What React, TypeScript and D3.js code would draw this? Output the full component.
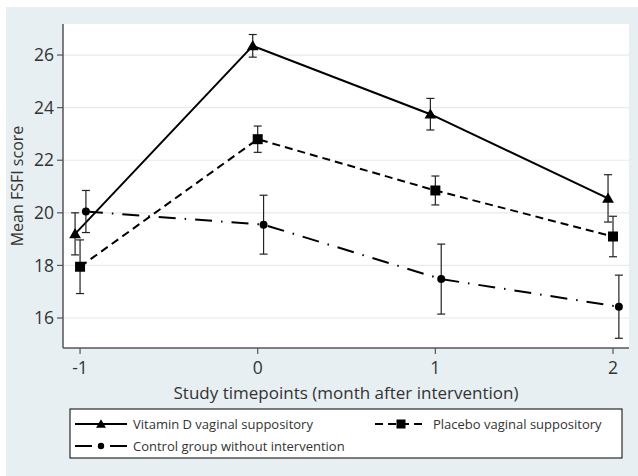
import React from 'react';
import * as d3 from 'd3';

const timepoints = [-1, 0, 1, 2];
const xTicks = [-1, 0, 1, 2];
const yTicks = [16, 18, 20, 22, 24, 26];

const vitaminMean = [19.2, 26.35, 23.75, 20.55];
const vitaminErr = [0.8, 0.43, 0.6, 0.9];
const placeboMean = [17.95, 22.8, 20.85, 19.1];
const placeboErr = [1.02, 0.5, 0.55, 0.77];
const controlMean = [20.05, 19.55, 17.48, 16.43];
const controlErr = [0.8, 1.12, 1.33, 1.2];

const series = [
  { name: 'Vitamin D vaginal suppository', mean: vitaminMean, err: vitaminErr, shift: -0.028, dash: null, marker: 'triangle' },
  { name: 'Placebo vaginal suppository', mean: placeboMean, err: placeboErr, shift: 0, dash: '8 5', marker: 'square' },
  { name: 'Control group without intervention', mean: controlMean, err: controlErr, shift: 0.033, dash: '17 9 1.5 9', marker: 'circle' },
];

const W = 638;
const H = 476;
const plot = { left: 63, right: 629, top: 24, bottom: 348 };
const font = '"Open Sans", sans-serif';

function Marker({ type, x, y, small }: { type: string; x: number; y: number; small?: boolean }) {
  if (type === 'triangle') {
    const s = d3.symbol(d3.symbolTriangle, small ? 42 : 60)();
    return <path d={s as string} transform={`translate(${x},${y + 1})`} fill="#000" />;
  }
  if (type === 'square') {
    const h = small ? 4.5 : 5;
    return <rect x={x - h} y={y - h} width={2 * h} height={2 * h} fill="#000" />;
  }
  return <circle cx={x} cy={y} r={small ? 3.2 : 4} fill="#000" />;
}

export default function App() {
  const x = d3.scaleLinear().domain([-1.096, 2.09]).range([plot.left, plot.right]);
  const y = d3.scaleLinear().domain([14.86, 27.18]).range([plot.bottom, plot.top]);

  const line = d3.line<[number, number]>().x(d => x(d[0])).y(d => y(d[1]));

  return (
    <div style={{ position: 'fixed', left: 0, top: 0 }}>
      <svg width={W} height={H} style={{ display: 'block', fontFamily: font }}>
        <rect x={0} y={0} width={W} height={H} fill="#fff" />
        <rect x={6} y={7} width={W - 6} height={H - 7} fill="#e8eff2" />
        <rect x={plot.left} y={plot.top} width={plot.right - plot.left} height={plot.bottom - plot.top} fill="#fff" />

        {/* gridlines */}
        {yTicks.map(t => (
          <line key={'g' + t} x1={plot.left} x2={plot.right} y1={y(t)} y2={y(t)} stroke="#e3ecef" strokeWidth={1.2} />
        ))}

        {/* axes */}
        <line x1={plot.left} x2={plot.left} y1={plot.top} y2={plot.bottom} stroke="#555" strokeWidth={1.5} />
        <line x1={plot.left} x2={plot.right} y1={plot.bottom} y2={plot.bottom} stroke="#555" strokeWidth={1.5} />
        {yTicks.map(t => (
          <g key={'y' + t}>
            <line x1={plot.left - 6} x2={plot.left} y1={y(t)} y2={y(t)} stroke="#555" strokeWidth={1.2} />
            <text x={plot.left - 9} y={y(t)} dy="0.35em" textAnchor="end" fontSize={17.5} fill="#333">{t}</text>
          </g>
        ))}
        {xTicks.map(t => (
          <g key={'x' + t}>
            <line x1={x(t)} x2={x(t)} y1={plot.bottom} y2={plot.bottom + 6} stroke="#555" strokeWidth={1.2} />
            <text x={x(t)} y={plot.bottom + 20} dy="0.35em" textAnchor="middle" fontSize={17.5} fill="#333">{t}</text>
          </g>
        ))}
        <text x={(plot.left + plot.right) / 2} y={393} dy="0.35em" textAnchor="middle" fontSize={17} fill="#333">
          Study timepoints (month after intervention)
        </text>
        <text transform={`translate(17,${(plot.top + plot.bottom) / 2}) rotate(-90)`} dy="0.35em" textAnchor="middle" fontSize={16} fill="#333">
          Mean FSFI score
        </text>

        {/* series */}
        {series.map(s => {
          const pts: [number, number][] = timepoints.map((t, i) => [t + s.shift, s.mean[i]]);
          return (
            <g key={s.name}>
              <path d={line(pts) as string} fill="none" stroke="#000" strokeWidth={2} strokeDasharray={s.dash ?? undefined} />
              {pts.map((p, i) => {
                const cx = x(p[0]);
                const y1 = y(p[1] + s.err[i]);
                const y2 = y(p[1] - s.err[i]);
                return (
                  <g key={i} stroke="#222" strokeWidth={1.2}>
                    <line x1={cx} x2={cx} y1={y1} y2={y2} />
                    <line x1={cx - 4} x2={cx + 4} y1={y1} y2={y1} />
                    <line x1={cx - 4} x2={cx + 4} y1={y2} y2={y2} />
                  </g>
                );
              })}
              {pts.map((p, i) => (
                <Marker key={'m' + i} type={s.marker} x={x(p[0])} y={y(p[1])} />
              ))}
            </g>
          );
        })}

        {/* legend */}
        <rect x={70} y={409} width={552} height={49} fill="#fff" stroke="#000" strokeWidth={1} />
        {[
          { s: series[0], lx: 75, ly: 424 },
          { s: series[1], lx: 375, ly: 424 },
          { s: series[2], lx: 75, ly: 446 },
        ].map(({ s, lx, ly }) => (
          <g key={'l' + s.name}>
            <line x1={lx} x2={lx + 52} y1={ly} y2={ly} stroke="#000" strokeWidth={2} strokeDasharray={s.marker === 'circle' ? '17 18 17' : s.dash ?? undefined} />
            <Marker type={s.marker} x={lx + 26} y={ly} small />
            <text x={lx + 58} y={ly} dy="0.35em" fontSize={13} fill="#333">{s.name}</text>
          </g>
        ))}
      </svg>
    </div>
  );
}
